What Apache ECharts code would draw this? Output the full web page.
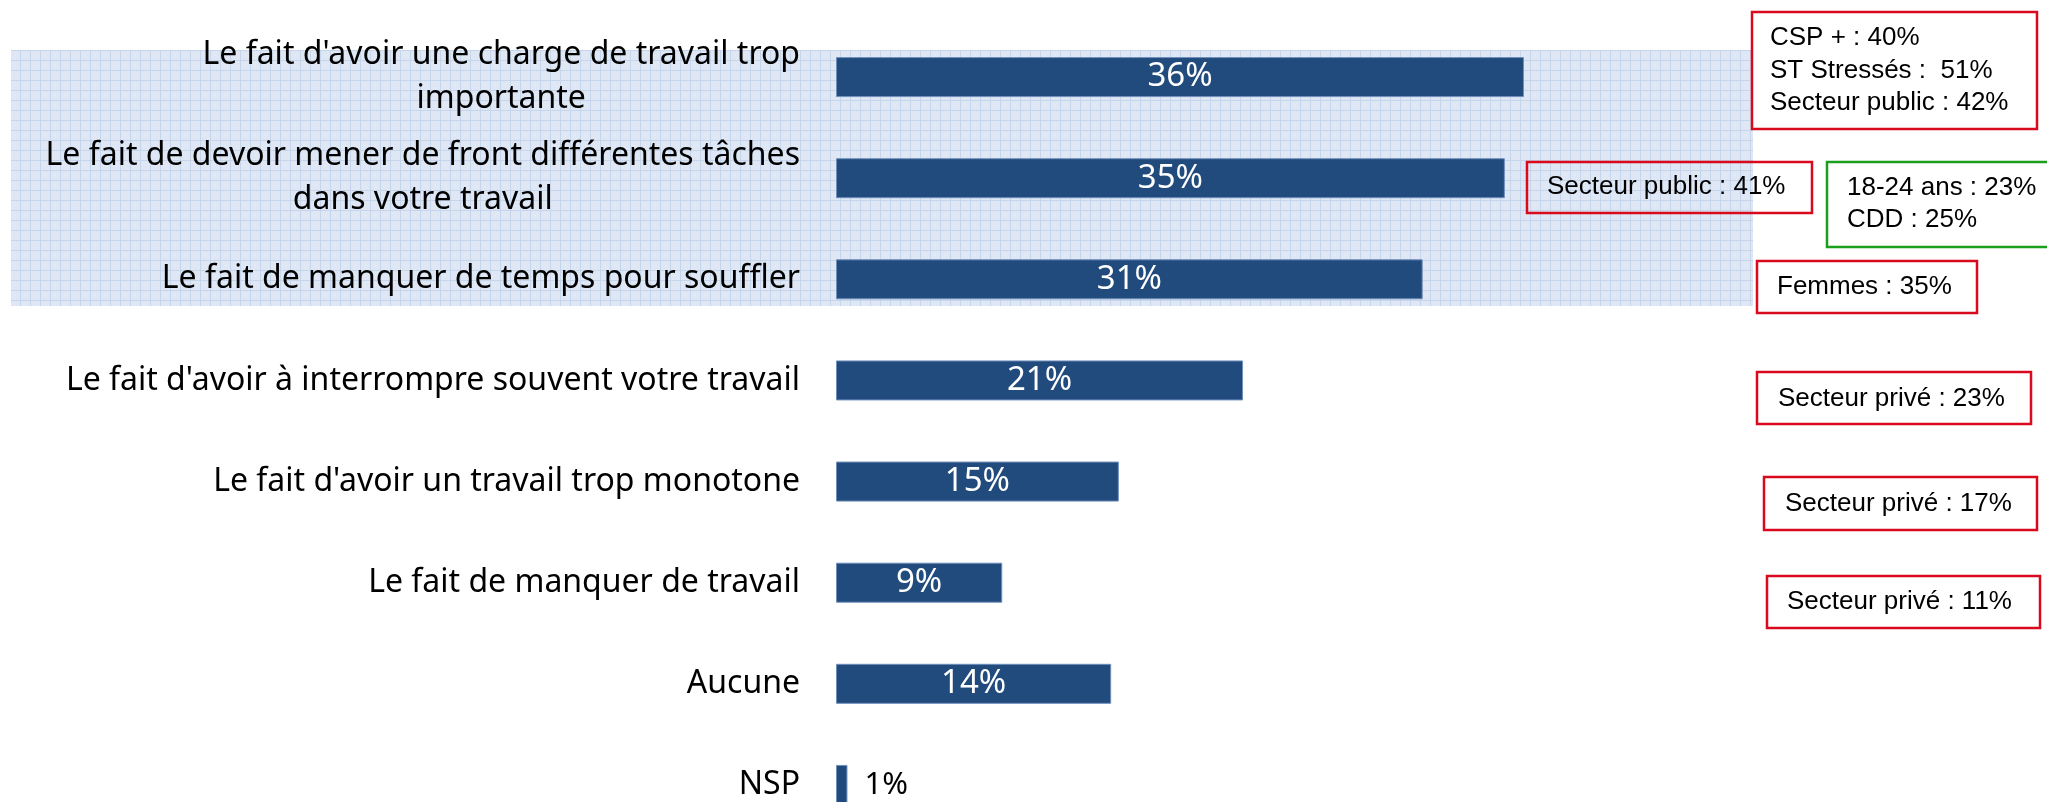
<!DOCTYPE html>
<html>
<head>
<meta charset="utf-8">
<script src="https://cdn.jsdelivr.net/npm/echarts@6/dist/echarts.min.js"></script>
<style>
  html, body { margin: 0; padding: 0; background: #fff; }
  #main { width: 2047px; height: 802px; }
</style>
</head>
<body>
<div id="main"></div>
<script>
const categories = [
  "Le fait d'avoir une charge de travail trop\nimportante",
  "Le fait de devoir mener de front différentes tâches\ndans votre travail",
  'Le fait de manquer de temps pour souffler',
  "Le fait d'avoir à interrompre souvent votre travail",
  "Le fait d'avoir un travail trop monotone",
  'Le fait de manquer de travail',
  'Aucune',
  'NSP'
]
const values = [36, 35, 30.7, 21.3, 14.8, 8.7, 14.4, 0.6]

// encadrés à droite
const noteCsp = ['CSP + : 40%', 'ST Stressés :  51%', 'Secteur public : 42%']
const notePublic = ['Secteur public : 41%']
const noteJeunes = ['18-24 ans : 23%', 'CDD : 25%']
const noteFemmes = ['Femmes : 35%']
const notePrive1 = ['Secteur privé : 23%']
const notePrive2 = ['Secteur privé : 17%']
const notePrive3 = ['Secteur privé : 11%']

const red = '#d90a1e'
const green = '#1b9e1b'

// papier millimétré
const canvas = document.createElement('canvas')
canvas.width = canvas.height = 10
const ctx = canvas.getContext('2d')
ctx.fillStyle = '#dee7f3'
ctx.fillRect(0, 0, 10, 10)
ctx.fillStyle = '#c5d6ec'
ctx.fillRect(0, 0, 10, 1)
ctx.fillRect(0, 0, 1, 10)
ctx.fillStyle = '#e8eef7'
ctx.fillRect(5, 5, 1, 1)

const box = (lines, x, y, w, h, color, tx, centers) => {
  let items = [{
    type: 'rect',
    shape: { x: x, y: y, width: w, height: h },
    style: { fill: 'none', stroke: color, lineWidth: 2.5 },
    z: 10
  }]
  lines.forEach((l, i) => {
    items.push({
      type: 'text',
      x: tx,
      y: centers[i],
      style: {
        text: l,
        font: '26px "Liberation Sans", Arial, sans-serif',
        fill: '#000',
        verticalAlign: 'middle'
      },
      z: 10
    })
  })
  return items
}

const myChart = echarts.init(document.getElementById('main'))

myChart.setOption({
  animation: false,
  grid: {
    left: 836,
    top: 26.5,
    width: 1146.6,
    height: 809,
    containLabel: false,
    outerBoundsMode: 'none'
  },
  xAxis: {
    type: 'value',
    min: 0,
    max: 60,
    show: false
  },
  yAxis: {
    type: 'category',
    inverse: true,
    data: categories,
    axisLine: { show: false },
    axisTick: { show: false },
    splitLine: { show: false },
    axisLabel: {
      margin: 36,
      formatter: v => v.split('\n').map(l => '{c|' + l + '}').join('\n'),
      rich: {
        c: {
          align: 'center',
          fontSize: 32,
          lineHeight: 44,
          fontFamily: '"Noto Sans", sans-serif',
          color: '#000'
        }
      }
    }
  },
  series: [
    {
      type: 'bar',
      barWidth: 40,
      itemStyle: {
        color: '#214a7d',
        borderColor: '#6f8fbb',
        borderWidth: 1
      },
      label: {
        show: true,
        position: 'inside',
        formatter: p => Math.round(p.value) + '%',
        color: '#fff',
        fontSize: 33,
        fontFamily: '"Noto Sans", sans-serif'
      },
      // le 1% de NSP est trop court pour contenir son étiquette
      data: values.map(v => v < 3 ? {
        value: v,
        label: { position: 'right', distance: 17, color: '#000', fontSize: 31 }
      } : v)
    }
  ],
  graphic: [
    {
      type: 'rect',
      silent: true,
      z: -1,
      shape: { x: 11, y: 50, width: 1742, height: 256 },
      style: { fill: { image: canvas, repeat: 'repeat' } }
    },
    ...box(noteCsp, 1752, 12, 285, 117, red, 1770, [38, 71, 103]),
    ...box(notePublic, 1527, 162, 285, 51, red, 1547, [187]),
    ...box(noteJeunes, 1827, 162, 240, 85, green, 1847, [188, 220]),
    ...box(noteFemmes, 1757, 261, 220, 52, red, 1777, [287]),
    ...box(notePrive1, 1757, 372, 274, 52, red, 1778, [399]),
    ...box(notePrive2, 1764, 477, 273, 53, red, 1785, [504]),
    ...box(notePrive3, 1767, 576, 273, 52, red, 1787, [602])
  ]
})
</script>
</body>
</html>
